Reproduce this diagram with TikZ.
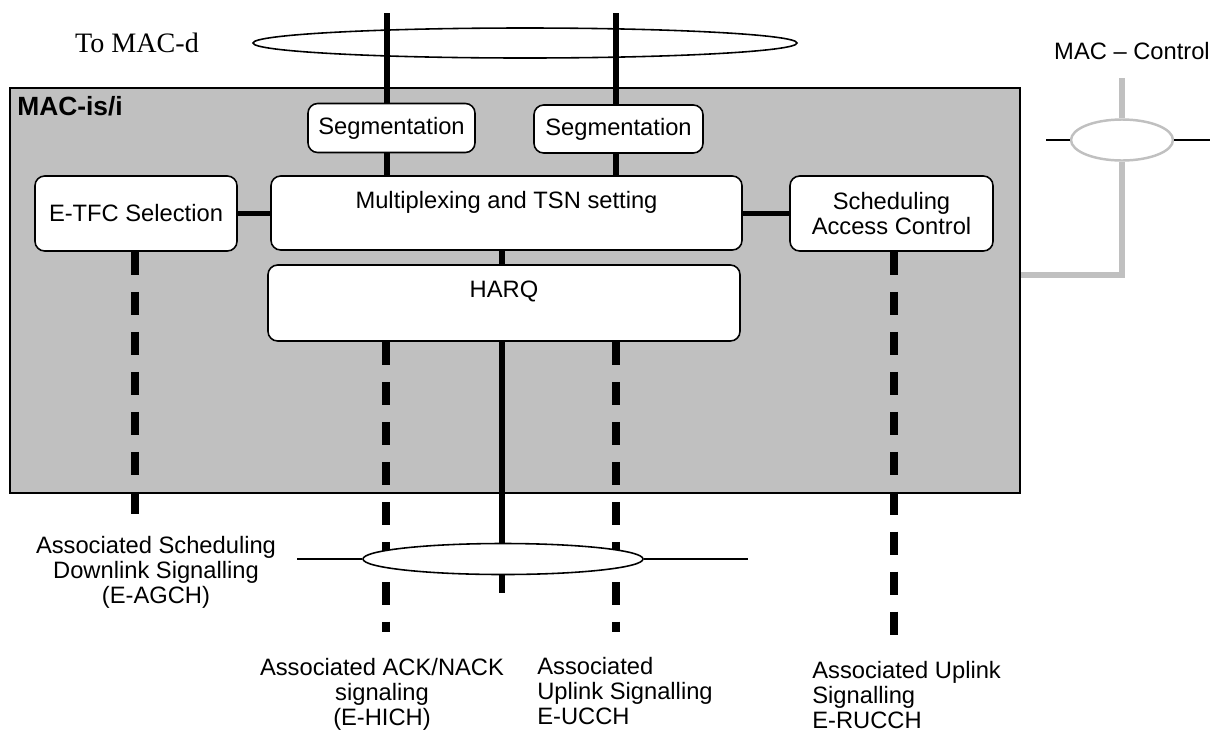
\documentclass[tikz,border=0pt]{standalone}
\usepackage{fontspec}
\setmainfont{Liberation Sans}
\newfontfamily\seriffont{Liberation Serif}
\usepackage{tikz}
\usetikzlibrary{positioning}
\usetikzlibrary{shapes.geometric}
\usetikzlibrary{calc}
\definecolor{macgray}{RGB}{192,192,192}
\def\px{0.02cm}
\tikzstyle{entity}=[rectangle,draw,fill=macgray,line width=1pt,inner sep=0pt]
\tikzstyle{block}=[rectangle,rounded corners=5.5pt,draw,fill=white,line width=0.9pt,align=center,inner sep=0pt]
\tikzstyle{chan}=[ellipse,draw,fill=white,line width=0.9pt,inner sep=0pt]
\tikzstyle{ctrlchan}=[ellipse,draw=macgray,fill=white,line width=1.4pt,inner sep=0pt]
\tikzstyle{edge} = [draw,line width=3.4pt]
\tikzstyle{dashededge} = [draw,line width=4.1pt,dash pattern=on 0.46cm off 0.34cm]
\tikzstyle{thinedge} = [draw,line width=1.1pt]
\tikzstyle{ctrledge} = [draw=macgray,line width=3.2pt]
\tikzset{txt/.style={font=\fontsize{13.5}{14.3}\selectfont,inner sep=0pt}}
\tikzset{toplbl/.style={txt,below=0.32cm}}

\begin{document}
\begin{tikzpicture}[x=\px,y=-\px]
  \useasboundingbox (0,0) rectangle (1210,731);

  % MAC-is/i entity
  \node[entity,minimum width=1010*\px,minimum height=405*\px] (mac) at (515,290.5) {};
  \node[txt,anchor=west,font=\fontsize{15}{17}\selectfont\bfseries] (macname) at (17,106) {MAC-is/i};

  % towards MAC-d
  \node[chan,minimum width=544*\px,minimum height=30*\px] (macd) at (525,43) {};
  \node[txt,font=\seriffont\fontsize{16}{18}\selectfont] (tomacd) at (137,43) {To MAC-d};

  \foreach \x/\y/\w/\h/\name/\label in {391.5/128/167/49/seg1/Segmentation, 618.5/129/169/48/seg2/Segmentation,
      136/213.5/202/75/etfc/E-TFC Selection, 891.5/213.5/203/75/sac/{Scheduling\\Access Control}}
          \node[block,txt,minimum width=\w*\px,minimum height=\h*\px] (\name) at (\x,\y) {\label};

  \node[block,minimum width=471*\px,minimum height=74*\px,
        label={[toplbl]north:Multiplexing and TSN setting}] (mux) at (506.5,213) {};
  \node[block,minimum width=472*\px,minimum height=76*\px,
        label={[toplbl]north:HARQ}] (harq) at (504,303) {};

  % free ends
  \coordinate (dtop1) at (387,13);
  \coordinate (dtop2) at (616,13);
  \coordinate (agch) at (135,514);
  \coordinate (hich) at (386,632);
  \coordinate (harqout) at (502,593);
  \coordinate (ucch) at (616,632);
  \coordinate (rucch) at (894,643);

  \path[edge] (dtop1) -- (dtop1 |- seg1.north);
  \path[edge] (dtop2) -- (dtop2 |- seg2.north);
  \path[edge] (seg1.south -| dtop1) -- (dtop1 |- mux.north);
  \path[edge] (seg2.south -| dtop2) -- (dtop2 |- mux.north);
  \path[edge] (etfc.east) -- (etfc.east -| mux.west);
  \path[edge] (mux.east |- sac.west) -- (sac.west);
  \path[edge] (mux.south -| harqout) -- (harqout |- harq.north);
  \path[edge] (harq.south -| harqout) -- (harqout);

  \foreach \source/\dest in {etfc/agch, harq/hich, harq/ucch, sac/rucch}
         \path[dashededge] (\source.south -| \dest) -- (\dest);

  % E-DCH associated channels
  \node[chan,minimum width=280*\px,minimum height=31*\px] (ebus) at (503,559) {};
  \coordinate (ebusw) at (297,559);
  \coordinate (ebuse) at (748,559);
  \path[thinedge] (ebusw) -- (ebus.west);
  \path[thinedge] (ebus.east) -- (ebuse);

  % MAC - Control
  \node[ctrlchan,minimum width=102*\px,minimum height=41*\px] (ctrl) at (1122,140) {};
  \coordinate (ctrltop) at (1122,78);
  \coordinate (ctrlbend) at (1122,275);
  \coordinate (ctrlw) at (1046,140);
  \coordinate (ctrle) at (1212,140);
  \path[ctrledge] (ctrltop) -- (ctrl.north);
  \path[ctrledge] (ctrl.south) -- (ctrlbend) -- (ctrlbend -| mac.east);
  \path[thinedge] (ctrlw) -- (ctrl.west);
  \path[thinedge] (ctrl.east) -- (ctrle);
  \node[txt] (ctrllbl) at (1132,51) {MAC – Control};

  % channel names
  \node[txt,align=center] (agchlbl) at (156,572) {Associated Scheduling\\Downlink Signalling\\(E-AGCH)};
  \node[txt,align=center] (hichlbl) at (382,694) {Associated ACK/NACK\\signaling\\(E-HICH)};
  \node[txt,align=left,anchor=west] (ucchlbl) at (537,691) {Associated\\Uplink Signalling\\E-UCCH};
  \node[txt,align=left,anchor=west] (rucchlbl) at (812,695) {Associated Uplink\\Signalling\\E-RUCCH};

\end{tikzpicture}
\end{document}
